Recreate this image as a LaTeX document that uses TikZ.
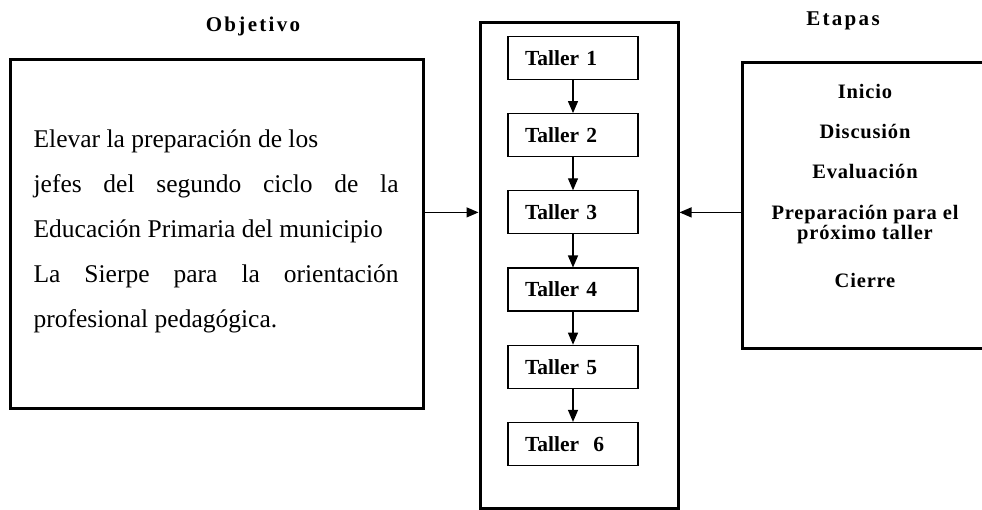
\documentclass[tikz,border=0pt]{standalone}
\usepackage{fontspec}
\setmainfont{Liberation Serif}
\newfontfamily\spacedfont[LetterSpace=11]{Liberation Serif}
\newfontfamily\widefont[LetterSpace=4]{Liberation Serif}
\usetikzlibrary{arrows.meta,positioning}
\tikzstyle{bigblock} = [rectangle, draw, line width=3pt]
\tikzstyle{tallerblock} = [rectangle, draw, minimum width=130pt, minimum height=43pt, text width=96pt, inner xsep=17pt, align=left, font=\fontsize{21.5}{24}\selectfont\bfseries]
\tikzstyle{heading} = [font=\fontsize{21}{22}\selectfont\spacedfont\bfseries]

\begin{document}
\begin{tikzpicture}[x=1pt, y=-1pt, node distance=33pt, line width=1.2pt, >={Triangle[length=12pt,width=10pt]}]
   \useasboundingbox (0,0) rectangle (982,510);
   % nodes
   \node[heading] (objtitle) at (253,26)                                     {Objetivo};
   \node[heading] (etptitle) at (843,21)                                     {Etapas};
   \node[bigblock, minimum width=413pt, minimum height=348pt] (obj) at (216.5,234) {};
   \node[bigblock, minimum width=198pt, minimum height=485pt] (cont) at (579,265.5) {};
   \node[bigblock, minimum width=253pt, minimum height=286pt] (etp) at (868.5,206) {};
   \node[tallerblock] (t1) at (573,58)                                       {Taller 1};
   \node[tallerblock] (t2) [below=of t1]                                     {Taller 2};
   \node[tallerblock] (t3) [below=of t2]                                     {Taller 3};
   \node[tallerblock] (t4) [below=of t3]                                     {Taller 4};
   \node[tallerblock] (t5) [below=of t4]                                     {Taller 5};
   \node[tallerblock] (t6) [below=of t5]                                     {Taller~~6};
   \node[anchor=north west, inner sep=0pt, text width=365pt, align=justify, font=\fontsize{25.5}{45}\selectfont] (objtext) at (33,129)
      {Elevar la preparación de los\\ jefes del segundo ciclo de la\linebreak Educación Primaria del municipio\\ La Sierpe para la orientación\linebreak profesional pedagógica.};
   \node[anchor=north, inner sep=0pt, align=center, font=\fontsize{20.5}{20}\selectfont\widefont\bfseries] (etptext) at (865,84)
      {Inicio\\[20pt] Discusión\\[20pt] Evaluación\\[21pt] Preparación para el\\ próximo taller\\[28pt] Cierre};

   % edges
   \draw[->] (t1) -- (t2);
   \draw[->] (t2) -- (t3);
   \draw[->] (t3) -- (t4);
   \draw[->] (t4) -- (t5);
   \draw[->] (t5) -- (t6);
   \draw[->] (obj.east |- t3) -- (cont.west |- t3);
   \draw[->] (etp.west |- t3) -- (cont.east |- t3);
\end{tikzpicture}
\end{document}
